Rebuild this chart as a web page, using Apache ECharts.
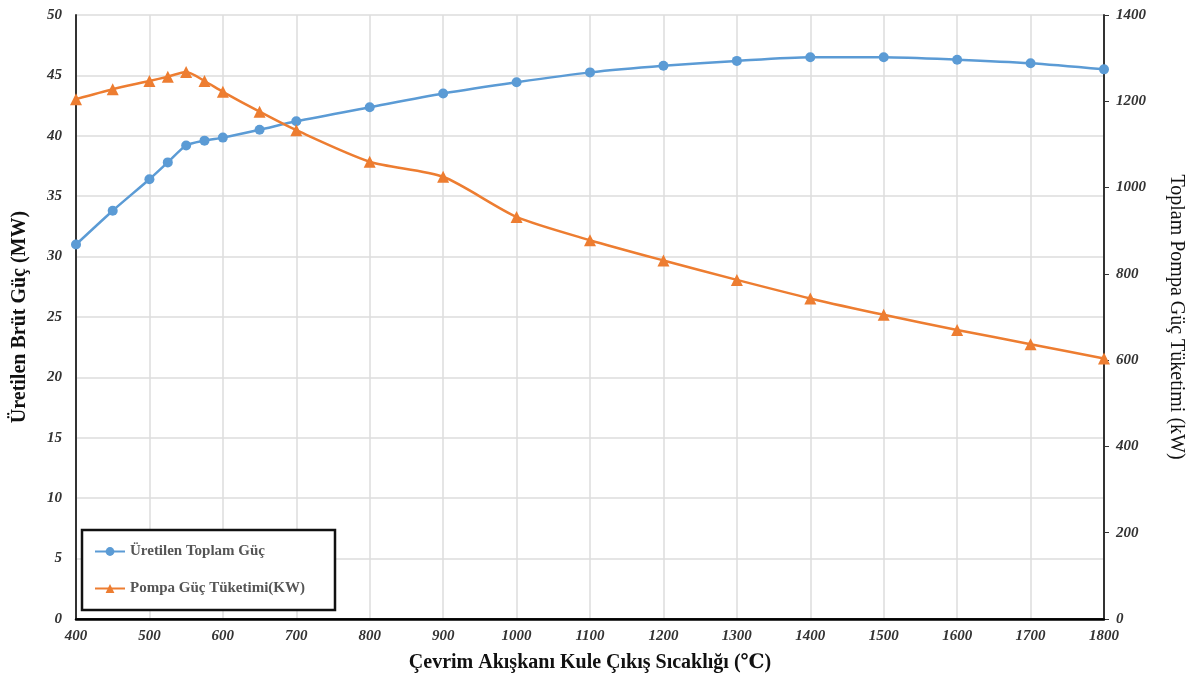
<!DOCTYPE html>
<html>
<head>
<meta charset="utf-8">
<script src="https://cdn.jsdelivr.net/npm/echarts@6/dist/echarts.min.js"></script>
<style>
html,body{margin:0;padding:0;background:#fff;overflow:hidden;}
#c{width:1194px;height:683px;}
</style>
</head>
<body>
<div id="c"></div>
<script>
const temps = [400,450,500,525,550,575,600,650,700,800,900,1000,1100,1200,1300,1400,1500,1600,1700,1800];
const grossPower = [31.0,33.8,36.4,37.8,39.2,39.6,39.85,40.5,41.2,42.36,43.5,44.43,45.25,45.8,46.2,46.5,46.5,46.3,46.0,45.5];
const pumpPower = [1205,1228,1247,1257,1268,1247,1222,1176,1133,1060,1025,932,878,831,786,743,705,670,637,604];
const seriesNames = ['Üretilen Toplam Güç','Pompa Güç Tüketimi(KW)'];
const xTitle = 'Çevrim Akışkanı Kule Çıkış Sıcaklığı (℃)';
const yLeftTitle = 'Üretilen Brüt Güç (MW)';
const yRightTitle = 'Toplam Pompa Güç Tüketimi (kW)';

const serif = '"Liberation Serif","DejaVu Serif",serif';
const tickLabel = {fontFamily: serif, fontWeight:'bold', fontStyle:'italic', fontSize:15, color:'#333', formatter:v=>String(v)};

const chart = echarts.init(document.getElementById('c'));
chart.setOption({
  animation:false,
  backgroundColor:'#fff',
  grid:{left:76,right:82,top:15,bottom:64,show:false,containLabel:false},
  legend:{
    orient:'vertical',left:82,top:530,
    padding:[14,30,14,12],itemGap:22,itemWidth:30,itemHeight:11,
    borderColor:'#111',borderWidth:2.5,backgroundColor:'#fff',
    textStyle:{fontFamily:serif,fontWeight:'bold',fontSize:15,color:'#555'},
    data:seriesNames
  },
  xAxis:[{
    type:'value',min:400,max:1800,interval:100,
    name:xTitle,nameLocation:'middle',nameGap:34,
    nameTextStyle:{fontFamily:serif,fontWeight:'bold',fontSize:20,color:'#111'},
    axisLine:{show:true,lineStyle:{color:'#333',width:2}},
    axisTick:{show:false},
    axisLabel:Object.assign({margin:10},tickLabel),
    splitLine:{show:true,lineStyle:{color:'#dcdcdc',width:1.5}}
  },{
    type:'value',min:400,max:1800,interval:100,position:'top',z:10,
    axisLine:{show:true,lineStyle:{color:'#000',width:2.5}},
    axisTick:{show:false},axisLabel:{show:false},splitLine:{show:false}
  }],
  yAxis:[{
    type:'value',min:0,max:50,interval:5,position:'left',
    name:yLeftTitle,nameLocation:'middle',nameGap:46,nameRotate:90,
    nameTextStyle:{fontFamily:serif,fontWeight:'bold',fontSize:20,color:'#111'},
    axisLine:{show:true,lineStyle:{color:'#333',width:2}},
    axisTick:{show:false},
    axisLabel:Object.assign({margin:14},tickLabel),
    splitLine:{show:true,lineStyle:{color:'#dcdcdc',width:1.5}}
  },{
    type:'value',min:0,max:1400,interval:200,position:'right',
    name:yRightTitle,nameLocation:'middle',nameGap:62,nameRotate:-90,
    nameTextStyle:{fontFamily:serif,fontSize:20,color:'#111'},
    axisLine:{show:true,lineStyle:{color:'#333',width:2}},
    axisTick:{show:true,length:5,lineStyle:{color:'#333'}},
    axisLabel:Object.assign({margin:12},tickLabel),
    splitLine:{show:false}
  }],
  series:[{
    name:seriesNames[0],type:'line',xAxisIndex:0,yAxisIndex:0,smooth:0.25,
    data:temps.map((t,i)=>[t,grossPower[i]]),
    symbol:'circle',symbolSize:10,
    lineStyle:{color:'#5B9BD5',width:2.5},
    itemStyle:{color:'#5B9BD5'}
  },{
    name:seriesNames[1],type:'line',xAxisIndex:0,yAxisIndex:1,smooth:0.25,
    data:temps.map((t,i)=>[t,pumpPower[i]]),
    symbol:'triangle',symbolSize:12,
    lineStyle:{color:'#ED7D31',width:2.5},
    itemStyle:{color:'#ED7D31'}
  }]
});
</script>
</body>
</html>
